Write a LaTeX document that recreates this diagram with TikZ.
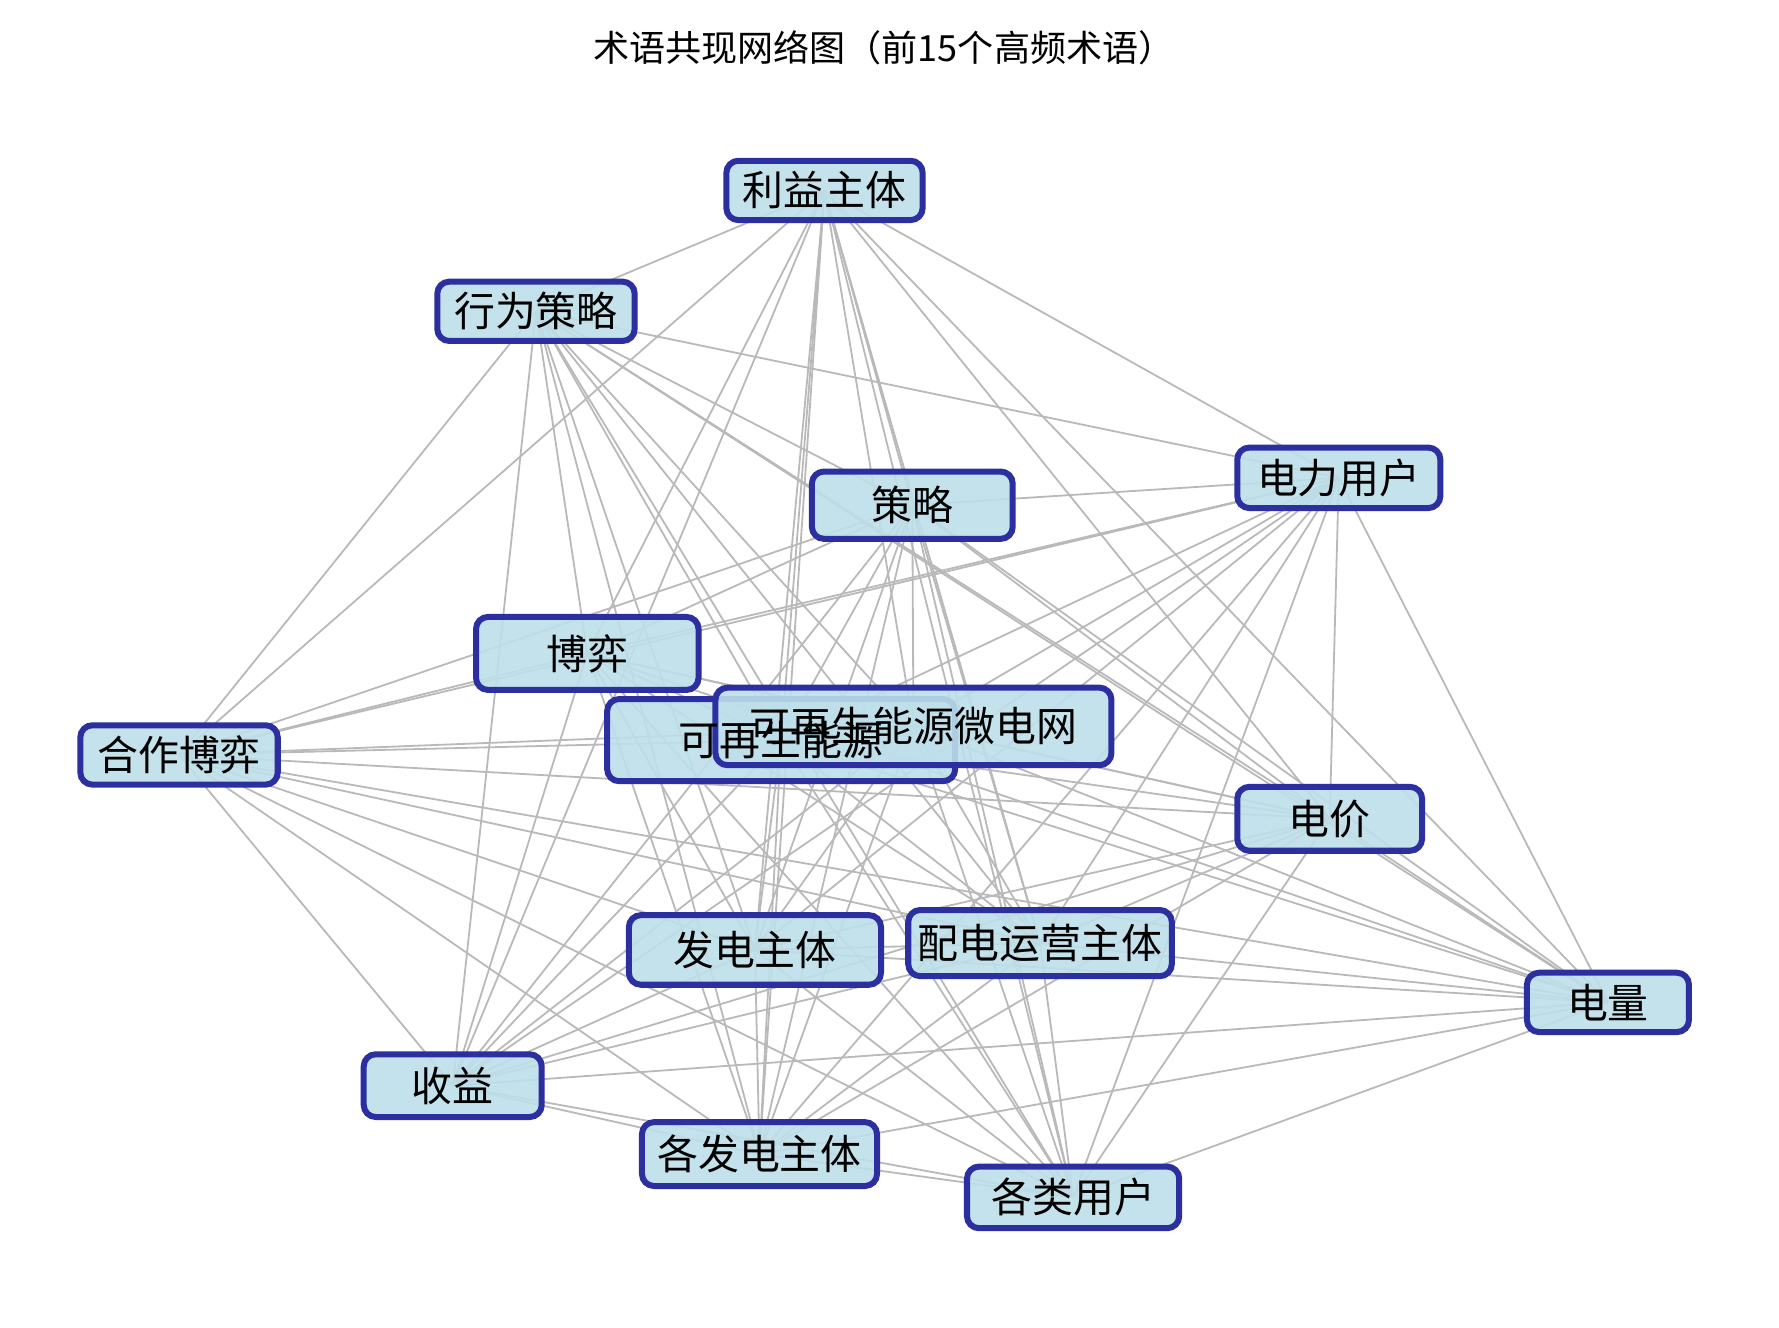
\documentclass[tikz,border=0pt]{standalone}
\usepackage{fontspec}
\setmainfont{Noto Sans CJK SC}
\usetikzlibrary{backgrounds}
\definecolor{termfill}{HTML}{BEDFEA}
\definecolor{termdraw}{HTML}{2B2FA0}
\tikzset{
  term/.style={draw=termdraw, line width=1.5pt, fill=termfill, fill opacity=0.9,
    rounded corners=3pt, inner sep=0pt},
  termtext/.style={font=\fontsize{10.2}{12}\selectfont, inner sep=0pt},
  link/.style={gray!55, line width=0.45pt}
}
\begin{document}
\begin{tikzpicture}[x=0.01cm, y=-0.01cm]
  \useasboundingbox (0,0) rectangle (1560,1164);
  \node[font=\fontsize{9}{11}\selectfont] (title) at (775,42) {术语共现网络图（前15个高频术语）};

  % term boxes
  \node[term, minimum width=1.72cm, minimum height=0.52cm] (t1)  at (723,167)  {};
  \node[term, minimum width=1.73cm, minimum height=0.52cm] (t2)  at (470,273)  {};
  \node[term, minimum width=1.76cm, minimum height=0.59cm] (t3)  at (800,443)  {};
  \node[term, minimum width=1.78cm, minimum height=0.53cm] (t4)  at (1174,419) {};
  \node[term, minimum width=1.95cm, minimum height=0.64cm] (t5)  at (515,573)  {};
  \node[term, minimum width=3.05cm, minimum height=0.72cm] (t6)  at (685,649)  {};
  \node[term, minimum width=3.47cm, minimum height=0.68cm] (t7)  at (801,637)  {};
  \node[term, minimum width=1.73cm, minimum height=0.52cm] (t8)  at (157,662)  {};
  \node[term, minimum width=1.62cm, minimum height=0.56cm] (t9)  at (1166,718) {};
  \node[term, minimum width=2.21cm, minimum height=0.61cm] (t10) at (662,833)  {};
  \node[term, minimum width=2.31cm, minimum height=0.58cm] (t11) at (912,827)  {};
  \node[term, minimum width=1.42cm, minimum height=0.52cm] (t12) at (1410,879) {};
  \node[term, minimum width=1.56cm, minimum height=0.55cm] (t13) at (397,952)  {};
  \node[term, minimum width=2.06cm, minimum height=0.56cm] (t14) at (666,1012) {};
  \node[term, minimum width=1.86cm, minimum height=0.54cm] (t15) at (941,1050) {};

  % term labels
  \node[termtext] (l1)  at (t1)  {利益主体};
  \node[termtext] (l2)  at (t2)  {行为策略};
  \node[termtext] (l3)  at (t3)  {策略};
  \node[termtext] (l4)  at (t4)  {电力用户};
  \node[termtext] (l5)  at (t5)  {博弈};
  \node[termtext] (l6)  at (t6)  {可再生能源};
  \node[termtext] (l7)  at (t7)  {可再生能源微电网};
  \node[termtext] (l8)  at (t8)  {合作博弈};
  \node[termtext] (l9)  at (t9)  {电价};
  \node[termtext] (l10) at (t10) {发电主体};
  \node[termtext] (l11) at (t11) {配电运营主体};
  \node[termtext] (l12) at (t12) {电量};
  \node[termtext] (l13) at (t13) {收益};
  \node[termtext] (l14) at (t14) {各发电主体};
  \node[termtext] (l15) at (t15) {各类用户};

  % co-occurrence links
  \begin{scope}[on background layer]
    \foreach \a in {1,...,14}{
      \pgfmathtruncatemacro{\first}{\a+1}
      \foreach \b in {\first,...,15}{
        \draw[link] (t\a.center) -- (t\b.center);
      }
    }
  \end{scope}
\end{tikzpicture}
\end{document}
